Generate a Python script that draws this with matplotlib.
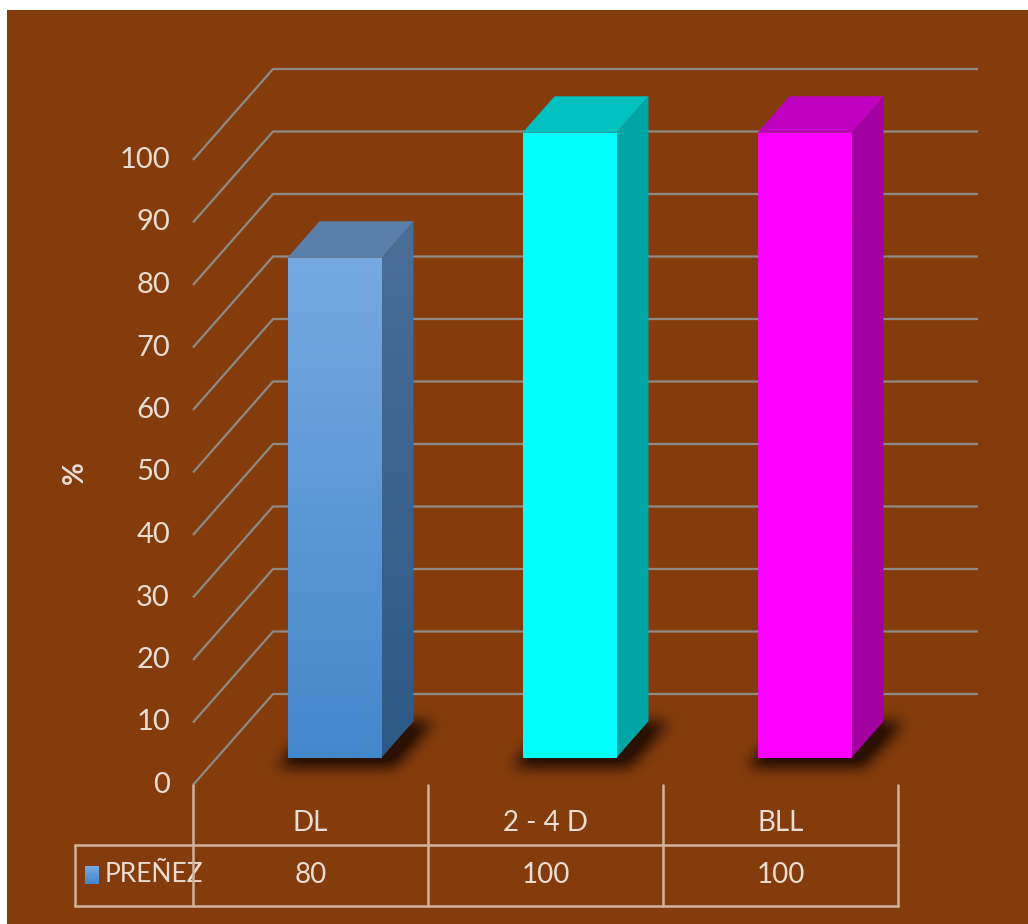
import numpy as np
import matplotlib
matplotlib.use("Agg")
import matplotlib.pyplot as plt
from matplotlib.patches import Polygon, Rectangle
from matplotlib.path import Path

# ---- data ----
categories = ["DL", "2 - 4 D", "BLL"]
prenez = [80, 100, 100]
series_name = "PREÑEZ"
ticks = [0, 10, 20, 30, 40, 50, 60, 70, 80, 90, 100]
axis_title = "%"

# ---- style ----
BG = "#843C0C"
TXT = "#EADDD3"
GRID = "#8F8A86"
TABLE = "#D2B39C"
FONT = ["Lato", "DejaVu Sans"]

front_cols = [("#76A9E1", "#4387CB"), ("#00FFFF", "#00FFFF"), ("#FF00FF", "#FF00FF")]
side_cols = [("#4A6E97", "#2D5986"), ("#00A6A6", "#00A6A6"), ("#A200A2", "#A200A2")]
top_cols = ["#5A7FAA", "#00C0C0", "#C000C0"]

W, H = 1028, 924
fig = plt.figure(figsize=(W / 100, H / 100), dpi=100)
fig.patch.set_facecolor("white")
fig.patches.append(Rectangle((7 / W, 0), 1 - 7 / W, 1 - 10 / H, transform=fig.transFigure,
                             facecolor=BG, edgecolor="none", zorder=-10))

# category axis: one unit per category, 235 px wide, starting at px 193
# value axis: front plane, 6.25 px per unit, zero at px 785
PX_X, X0 = 235.0, 193.0
PX_Y, Y0 = 6.25, 785.0
ax = fig.add_axes([0, 0, 1, 1], zorder=5)
ax.set_xlim(-X0 / PX_X, (W - X0) / PX_X)
ax.set_ylim((Y0 - H) / PX_Y, Y0 / PX_Y)
ax.axis("off")
ax.patch.set_alpha(0)

# depth offset of the back wall (in data units)
DX = 80.0 / PX_X
DY = 91.0 / PX_Y
n = len(categories)


def pt(x, y, d):
    return (x + d * DX, y + d * DY)


# ---- walls: gridlines ----
for v in ticks:
    bx, by = pt(0, v, 1.0)
    ex, ey = pt(n, v, 1.0)
    ax.plot([0, bx, ex], [v, by, ey], color=GRID, lw=1.6, zorder=1, solid_capstyle="butt")
    ax.text(-23 / PX_X, v, str(v), ha="right", va="center", color=TXT, fontsize=21, family=FONT)

ax.text(-118 / PX_X, 50, axis_title, rotation=90, ha="center", va="center", color=TXT,
        fontsize=20, fontweight="bold", family=FONT)

# ---- bars ----
bw = 0.4
d_front, d_back = 0.3, 0.7

# soft floor shadow behind/right of each bar
xs = np.arange(W) + 0.5
ys = np.arange(H) + 0.5
gx, gy = np.meshgrid(xs, H - ys)
pts = np.column_stack([gx.ravel(), gy.ravel()])
mask = np.zeros(H * W)
for i, v in enumerate(prenez):
    xl, xr = i + 0.5 - bw / 2, i + 0.5 + bw / 2
    foot = [pt(xl, 0, d_front), pt(xr, 0, d_front), pt(xr, 0, d_back), pt(xl, 0, d_back)]
    disp = ax.transData.transform(foot)
    c = disp.mean(axis=0)
    disp = c + (disp - c) * 1.25 + np.array([5, -5])
    mask = np.maximum(mask, Path(disp).contains_points(pts).astype(float))
mask = mask.reshape(H, W)
sig = 7.0
k = np.exp(-0.5 * (np.arange(-24, 25) / sig) ** 2)
k /= k.sum()
mask = np.apply_along_axis(lambda r: np.convolve(r, k, mode="same"), 1, mask)
mask = np.apply_along_axis(lambda c_: np.convolve(c_, k, mode="same"), 0, mask)
shadow = np.zeros((H, W, 4))
shadow[..., 0] = 0.13
shadow[..., 1] = 0.05
shadow[..., 2] = 0.01
shadow[..., 3] = np.clip(mask * 1.1, 0, 0.9)
xl0, xl1 = ax.get_xlim()
yl0, yl1 = ax.get_ylim()
ax.imshow(shadow, extent=(xl0, xl1, yl0, yl1), origin="upper", aspect="auto",
          zorder=2, interpolation="bilinear")


def gradient(c_top, c_bot):
    a = np.array(matplotlib.colors.to_rgb(c_top))
    b = np.array(matplotlib.colors.to_rgb(c_bot))
    t = np.linspace(0, 1, 128)[:, None]
    return (a * (1 - t) + b * t)[:, None, :]


for i, v in enumerate(prenez):
    xl, xr = i + 0.5 - bw / 2, i + 0.5 + bw / 2
    # front face
    fx0, fy0 = pt(xl, 0, d_front)
    fx1, fy1 = pt(xr, v, d_front)
    ax.imshow(gradient(*front_cols[i]), extent=(fx0, fx1, fy0, fy1), origin="upper",
              aspect="auto", zorder=3, interpolation="bilinear")
    # right side face
    side = Polygon([pt(xr, 0, d_front), pt(xr, 0, d_back), pt(xr, v, d_back), pt(xr, v, d_front)],
                   closed=True, facecolor="none", edgecolor="none", zorder=3)
    ax.add_patch(side)
    sx0, sy0 = pt(xr, 0, d_front)
    sx1, sy1 = pt(xr, v, d_back)
    im = ax.imshow(gradient(*side_cols[i]), extent=(sx0, sx1, sy0, sy1), origin="upper",
                   aspect="auto", zorder=3, interpolation="bilinear")
    im.set_clip_path(side)
    # top face
    ax.add_patch(Polygon([pt(xl, v, d_front), pt(xr, v, d_front), pt(xr, v, d_back), pt(xl, v, d_back)],
                         closed=True, facecolor=top_cols[i], edgecolor="none", zorder=3))

ax.set_xlim(xl0, xl1)
ax.set_ylim(yl0, yl1)

# ---- data table ----
row1 = (Y0 - 845) / PX_Y
row2 = (Y0 - 906) / PX_Y
left = (75 - X0) / PX_X
lk = dict(color=TABLE, lw=1.8, zorder=4, solid_capstyle="round")
for j in range(n + 1):
    ax.plot([j, j], [0, row2], **lk)
ax.plot([left, n], [row1, row1], **lk)
ax.plot([left, n], [row2, row2], **lk)
ax.plot([left, left], [row1, row2], **lk)

cat_y = (Y0 - 823) / PX_Y
val_y = (Y0 - 875) / PX_Y
for i, (cat, v) in enumerate(zip(categories, prenez)):
    ax.text(i + 0.5, cat_y, cat, ha="center", va="center", color=TXT, fontsize=20, family=FONT)
    ax.text(i + 0.5, val_y, str(v), ha="center", va="center", color=TXT, fontsize=20, family=FONT)

ax.imshow(gradient(*front_cols[0]), extent=(left + 10 / PX_X, left + 23 / PX_X, val_y - 9 / PX_Y, val_y + 9 / PX_Y),
          origin="upper", aspect="auto", zorder=4)
ax.text(left + 30 / PX_X, val_y, series_name, ha="left", va="center", color=TXT, fontsize=19, family=FONT)

ax.set_xlim(xl0, xl1)
ax.set_ylim(yl0, yl1)
fig.savefig("out.png", dpi=100, facecolor=fig.get_facecolor())
